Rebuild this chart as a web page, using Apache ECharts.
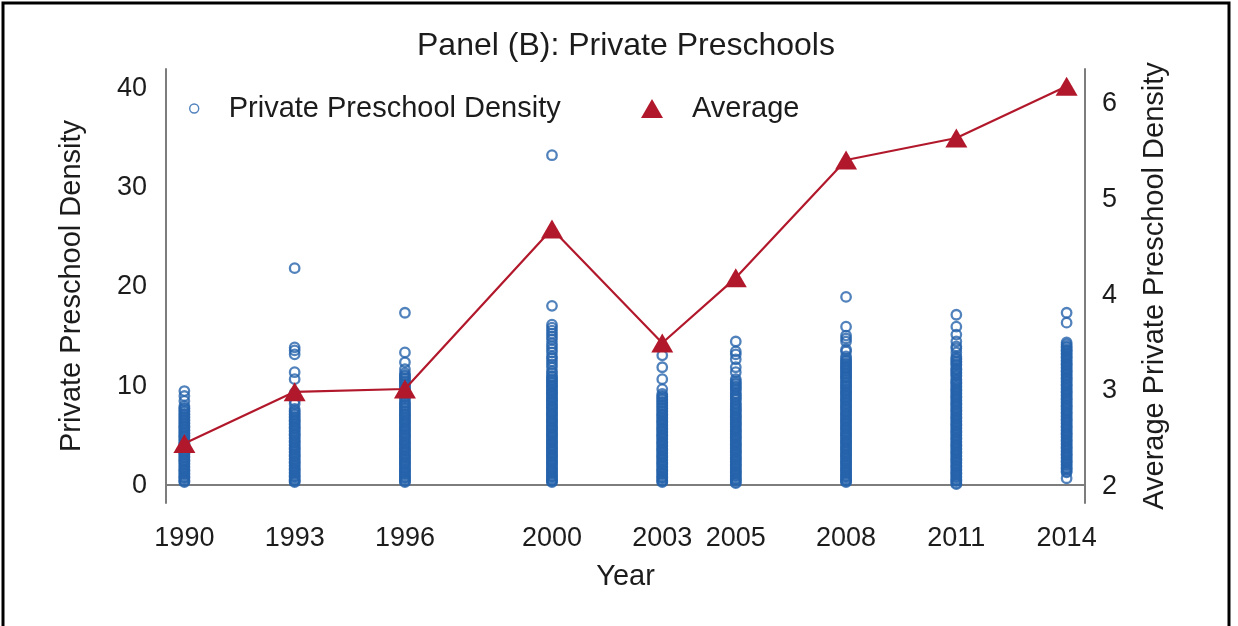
<!DOCTYPE html>
<html>
<head>
<meta charset="utf-8">
<title>Panel (B): Private Preschools</title>
<script src="https://cdn.jsdelivr.net/npm/echarts@6/dist/echarts.min.js"></script>
<style>
  html, body { margin: 0; padding: 0; background: #fff; }
  #chart { width: 1238px; height: 626px; }
</style>
</head>
<body>
<div id="chart"></div>
<script>
// Survey years shown on the x axis
const years = [1990, 1993, 1996, 2000, 2003, 2005, 2008, 2011, 2014];

// Average private preschool density per year (right axis)
const averageDensity = [2.45, 2.99, 3.02, 4.69, 3.50, 4.18, 5.41, 5.64, 6.18];

// Tick labels
const leftTicks = [0, 10, 20, 30, 40];
const rightTicks = [2, 3, 4, 5, 6];

// Private preschool density of each area, by year (left axis)
const density1990 = [0.3,0.4,0.5,0.7,0.8,0.9,1.1,1.2,1.4,1.5,1.6,1.8,1.9,2.1,2.2,2.4,2.5,2.6,2.8,2.9,3.1,3.2,3.3,3.5,3.6,3.8,3.9,4.1,4.2,4.3,4.5,4.6,4.8,4.9,5.0,5.2,5.3,5.5,5.6,5.8,5.9,6.0,6.2,6.3,6.5,6.6,6.8,6.9,7.1,7.2,7.4,7.5,7.7,7.8,8.0,8.5,9.0,9.5];
const density1993 = [0.3,0.4,0.5,0.6,0.8,0.9,1.0,1.2,1.3,1.5,1.6,1.7,1.9,2.0,2.2,2.3,2.4,2.6,2.7,2.9,3.0,3.1,3.3,3.4,3.6,3.7,3.8,4.0,4.1,4.3,4.4,4.5,4.7,4.8,5.0,5.1,5.2,5.4,5.5,5.7,5.8,5.9,6.1,6.2,6.4,6.5,6.6,6.8,6.9,7.1,7.2,7.4,7.5,7.7,8.2,8.5,9.3,10.7,11.4,13.2,13.6,13.9,21.9];
const density1996 = [0.3,0.4,0.5,0.7,0.8,0.9,1.1,1.2,1.4,1.5,1.6,1.8,1.9,2.1,2.2,2.3,2.5,2.6,2.8,2.9,3.0,3.2,3.3,3.5,3.6,3.7,3.9,4.0,4.2,4.3,4.4,4.6,4.7,4.9,5.0,5.1,5.3,5.4,5.6,5.7,5.8,6.0,6.1,6.3,6.4,6.5,6.7,6.8,7.0,7.1,7.2,7.4,7.5,7.7,7.8,8.0,8.1,8.3,8.4,8.7,8.9,9.0,9.2,9.3,9.5,9.6,9.8,9.9,10.1,10.2,10.4,10.5,10.7,10.8,11.0,11.1,11.3,11.7,12.4,13.4,17.4];
const density2000 = [0.3,0.4,0.5,0.6,0.8,0.9,1.0,1.2,1.3,1.5,1.6,1.7,1.9,2.0,2.2,2.3,2.4,2.6,2.7,2.9,3.0,3.1,3.3,3.4,3.6,3.7,3.8,4.0,4.1,4.3,4.4,4.5,4.7,4.8,5.0,5.1,5.2,5.4,5.5,5.7,5.8,5.9,6.1,6.2,6.4,6.5,6.6,6.8,6.9,7.1,7.2,7.3,7.5,7.6,7.8,7.9,8.0,8.2,8.3,8.5,8.6,8.7,8.9,9.0,9.2,9.3,9.4,9.6,9.7,9.9,10.0,10.1,10.3,10.4,10.6,10.7,10.9,11.0,11.3,11.5,11.9,12.2,12.5,12.8,13.0,13.4,13.7,14.0,14.3,14.7,15.0,15.3,15.6,15.9,16.2,18.1,33.3];
const density2003 = [0.3,0.4,0.5,0.7,0.8,0.9,1.1,1.2,1.4,1.5,1.6,1.8,1.9,2.1,2.2,2.3,2.5,2.6,2.8,2.9,3.0,3.2,3.3,3.5,3.6,3.7,3.9,4.0,4.2,4.3,4.4,4.6,4.7,4.9,5.0,5.1,5.3,5.4,5.6,5.7,5.8,6.0,6.1,6.3,6.4,6.5,6.7,6.8,7.0,7.1,7.2,7.4,7.5,7.7,7.8,8.0,8.1,8.3,8.4,8.6,8.7,8.9,9.0,9.2,9.7,10.7,11.9,13.1];
const density2005 = [0.2,0.3,0.5,0.6,0.7,0.9,1.0,1.2,1.3,1.4,1.6,1.7,1.9,2.0,2.1,2.3,2.4,2.6,2.7,2.8,3.0,3.1,3.3,3.4,3.5,3.7,3.8,4.0,4.1,4.2,4.4,4.5,4.7,4.8,4.9,5.1,5.2,5.4,5.5,5.6,5.8,5.9,6.1,6.2,6.3,6.5,6.6,6.8,6.9,7.0,7.2,7.3,7.5,7.6,7.7,7.9,8.0,8.2,8.3,8.6,8.7,8.9,9.0,9.2,9.3,9.6,9.7,9.9,10.0,10.2,10.3,10.5,10.7,11.4,11.9,12.7,13.2,13.5,14.5];
const density2008 = [0.3,0.4,0.5,0.6,0.8,0.9,1.0,1.2,1.3,1.5,1.6,1.7,1.9,2.0,2.2,2.3,2.4,2.6,2.7,2.9,3.0,3.1,3.3,3.4,3.6,3.7,3.8,4.0,4.1,4.3,4.4,4.5,4.7,4.8,5.0,5.1,5.2,5.4,5.5,5.7,5.8,5.9,6.1,6.2,6.4,6.5,6.6,6.8,6.9,7.1,7.2,7.3,7.5,7.6,7.8,7.9,8.0,8.2,8.3,8.5,8.6,8.7,8.9,9.0,9.2,9.3,9.4,9.6,9.7,9.9,10.0,10.1,10.3,10.4,10.6,10.8,10.9,11.0,11.2,11.3,11.5,11.6,11.8,11.9,12.0,12.2,12.3,12.5,12.6,12.8,13.0,13.5,13.7,14.5,14.8,15.1,16.0,19.0];
const density2011 = [0.1,0.2,0.4,0.5,0.6,0.8,0.9,1.1,1.2,1.3,1.5,1.6,1.8,1.9,2.0,2.2,2.3,2.5,2.6,2.7,2.9,3.0,3.2,3.3,3.4,3.6,3.7,3.9,4.0,4.1,4.3,4.4,4.6,4.7,4.8,5.0,5.1,5.3,5.4,5.5,5.7,5.8,6.0,6.1,6.2,6.4,6.5,6.7,6.8,6.9,7.1,7.2,7.4,7.5,7.6,7.8,7.9,8.1,8.2,8.3,8.5,8.6,8.8,8.9,9.0,9.2,9.3,9.5,9.6,9.7,9.9,10.0,10.2,10.3,10.4,10.6,10.7,11.0,11.1,11.3,11.4,11.6,11.7,11.8,12.1,12.2,12.4,12.5,12.7,12.8,13.0,13.4,13.8,14.0,14.5,15.2,16.0,17.2];
const density2014 = [0.7,1.3,1.4,1.6,1.7,1.8,2.0,2.1,2.3,2.4,2.5,2.7,2.8,3.0,3.1,3.2,3.4,3.5,3.7,3.8,3.9,4.1,4.2,4.4,4.5,4.6,4.8,4.9,5.1,5.2,5.3,5.5,5.6,5.8,5.9,6.0,6.2,6.3,6.5,6.6,6.7,6.9,7.0,7.2,7.3,7.4,7.6,7.7,7.9,8.0,8.1,8.3,8.4,8.6,8.7,8.8,9.0,9.1,9.3,9.4,9.5,9.7,9.8,10.0,10.1,10.2,10.4,10.5,10.7,10.8,10.9,11.1,11.2,11.4,11.5,11.6,11.8,11.9,12.1,12.2,12.3,12.5,12.6,12.8,12.9,13.0,13.2,13.3,13.5,13.6,13.7,13.9,14.0,14.2,14.4,16.4,17.4];

const densityByYear = [density1990, density1993, density1996, density2000, density2003,
                       density2005, density2008, density2011, density2014];

// [year, value] pairs for the scatter and the line
const scatterData = [];
densityByYear.forEach((vals, i) => {
  vals.forEach(v => scatterData.push([years[i], v]));
});
const averageData = years.map((y, i) => [y, averageDensity[i]]);

const BLUE = '#2563ab';
const RED = '#b2182b';
const TEXT = '#1c1c1c';
const AXIS = '#7d7d7d';
const FONT = '"Liberation Sans", Arial, sans-serif';
const FS_TITLE = 32;
const FS_NAME = 29;
const FS_TICK = 27;

const chart = echarts.init(document.getElementById('chart'), null, { renderer: 'canvas' });

chart.setOption({
  animation: false,
  backgroundColor: '#ffffff',
  textStyle: { fontFamily: FONT, color: TEXT },
  title: {
    text: 'Panel (B): Private Preschools',
    left: 412,
    top: 25,
    padding: 5,
    textStyle: { fontFamily: FONT, fontSize: FS_TITLE, fontWeight: 'normal', color: TEXT }
  },
  graphic: [{
    type: 'rect',
    silent: true,
    shape: { x: 3, y: 3, width: 1226, height: 700 },
    style: { fill: 'none', stroke: '#000', lineWidth: 3 },
    z: 100
  }],
  legend: [{
    left: 184,
    top: 89,
    itemWidth: 9,
    itemHeight: 9,
    data: [{
      name: 'Private Preschool Density',
      icon: 'circle',
      itemStyle: { color: 'rgba(0,0,0,0)', borderColor: BLUE, borderWidth: 1.4 }
    }],
    textStyle: { fontFamily: FONT, fontSize: FS_NAME, color: TEXT, padding: [0, 0, 0, 25] }
  }, {
    left: 636,
    top: 89,
    itemWidth: 22,
    itemHeight: 19,
    data: [{ name: 'Average', icon: 'triangle' }],
    textStyle: { fontFamily: FONT, fontSize: FS_NAME, color: TEXT, padding: [0, 0, 0, 24] }
  }],
  grid: {
    left: 166,
    right: 153,
    top: 69,
    bottom: 123,
    containLabel: false,
    outerBoundsMode: 'none'
  },
  xAxis: {
    type: 'value',
    min: 1989.5,
    max: 2014.5,
    name: 'Year',
    nameLocation: 'middle',
    nameGap: 59,
    nameTextStyle: { fontFamily: FONT, fontSize: FS_NAME, color: TEXT },
    axisLine: { show: true, lineStyle: { color: AXIS, width: 2 } },
    axisTick: { show: false },
    splitLine: { show: false },
    axisLabel: {
      customValues: years,
      margin: 22,
      fontFamily: FONT,
      fontSize: FS_TICK,
      color: TEXT,
      formatter: v => String(v)
    }
  },
  yAxis: [{
    type: 'value',
    position: 'left',
    min: -1.8,
    max: 42,
    name: 'Private Preschool Density',
    nameLocation: 'middle',
    nameGap: 80,
    nameRotate: 90,
    nameTextStyle: { fontFamily: FONT, fontSize: FS_NAME, color: TEXT },
    axisLine: { show: true, lineStyle: { color: AXIS, width: 2 } },
    axisTick: { show: false },
    splitLine: { show: false },
    axisLabel: {
      customValues: leftTicks,
      margin: 19,
      fontFamily: FONT,
      fontSize: FS_TICK,
      color: TEXT
    }
  }, {
    type: 'value',
    position: 'right',
    min: 1.83,
    max: 6.36,
    name: 'Average Private Preschool Density',
    nameLocation: 'middle',
    nameGap: 55,
    nameRotate: 90,
    nameTextStyle: { fontFamily: FONT, fontSize: FS_NAME, color: TEXT },
    axisLine: { show: true, lineStyle: { color: AXIS, width: 2 } },
    axisTick: { show: false },
    splitLine: { show: false },
    axisLabel: {
      customValues: rightTicks,
      margin: 17,
      fontFamily: FONT,
      fontSize: FS_TICK,
      color: TEXT
    }
  }],
  series: [{
    name: 'Private Preschool Density',
    type: 'scatter',
    xAxisIndex: 0,
    yAxisIndex: 0,
    symbol: 'circle',
    symbolSize: 9.5,
    itemStyle: { color: 'rgba(0,0,0,0)', borderColor: BLUE, borderWidth: 2.3 },
    data: scatterData,
    z: 2
  }, {
    name: 'Average',
    type: 'line',
    xAxisIndex: 0,
    yAxisIndex: 1,
    symbol: 'triangle',
    symbolSize: [22, 19],
    showAllSymbol: true,
    itemStyle: { color: RED },
    lineStyle: { color: RED, width: 2.2 },
    data: averageData,
    z: 3
  }]
});
</script>
</body>
</html>
